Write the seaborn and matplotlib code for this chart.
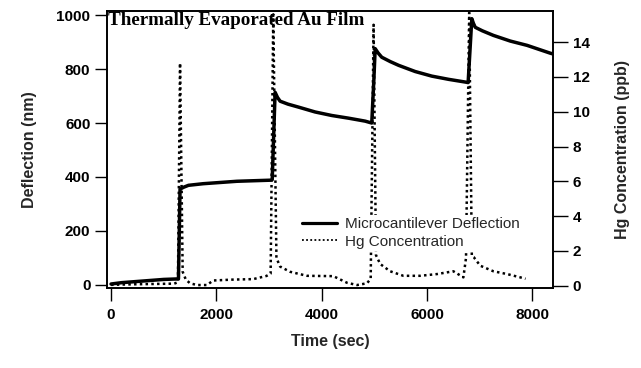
import matplotlib
matplotlib.use("Agg")
import matplotlib.pyplot as plt
import seaborn as sns
import pandas as pd
from matplotlib.lines import Line2D

# ---- data ----
time_defl = [0, 200, 600, 1000, 1280, 1310, 1380, 1470, 1750, 2390, 3020, 3060,
             3115, 3160, 3210, 3360, 3560, 3875, 4190, 4510, 4825, 4950,
             4990, 5015, 5070, 5140, 5300, 5460, 5775, 6090, 6410, 6725,
             6780, 6850, 6880, 6915, 7050, 7260, 7580, 7900, 8340, 8395]
deflection = [3, 8, 14, 20, 22, 355, 362, 369, 375, 384, 388, 390,
              714, 695, 681, 670, 659, 641, 628, 618, 607, 600,
              760, 876, 860, 844, 828, 814, 791, 774, 762, 752,
              750, 987, 970, 955, 942, 925, 904, 888, 859, 856]

time_hg = [0, 400, 800, 1200, 1270, 1310, 1360, 1420, 1500, 1630, 1820, 1940, 2300,
           2700, 2950, 3030, 3080, 3140, 3210, 3400, 3720, 4220, 4480, 4670, 4860,
           4930, 4985, 5030, 5110, 5300, 5550, 5870, 6190, 6500, 6690, 6740, 6800,
           6850, 6890, 7010, 7260, 7520, 7770, 7870]
hg_conc = [0.05, 0.08, 0.1, 0.12, 0.2, 12.8, 0.8, 0.35, 0.14, 0.04, 0.04, 0.3, 0.35,
           0.38, 0.56, 0.7, 15.6, 1.6, 1.1, 0.8, 0.57, 0.55, 0.17, 0.04, 0.14,
           0.4, 15.0, 1.76, 1.25, 0.83, 0.57, 0.57, 0.67, 0.83, 0.48, 1.6, 15.7,
           1.7, 1.63, 1.15, 0.83, 0.67, 0.48, 0.4]

x_ticks = [0, 2000, 4000, 6000, 8000]
left_ticks = [0, 200, 400, 600, 800, 1000]
right_ticks = [0, 2, 4, 6, 8, 10, 12, 14]

title_text = "Thermally Evaporated Au Film"
legend_labels = ["Microcantilever Deflection", "Hg Concentration"]

sns.set_style("ticks")
plt.rcParams['font.family'] = ['Liberation Sans', 'DejaVu Sans']

df_d = pd.DataFrame({"t": time_defl, "d": deflection})
df_h = pd.DataFrame({"t": time_hg, "h": hg_conc})

fig = plt.figure(figsize=(6.41, 3.68), dpi=100)
ax = fig.add_axes([0.167, 0.2165, 0.696, 0.754])
ax2 = ax.twinx()

sns.lineplot(data=df_d, x="t", y="d", ax=ax, color="black", lw=2.5, sort=False)
sns.lineplot(data=df_h, x="t", y="h", ax=ax2, color="black", lw=1.8,
             linestyle=(0, (1, 1.3)), sort=False)

ax.set_xlim(-76, 8395)
ax.set_ylim(-13, 1016)
ax2.set_ylim(-0.15, 15.8)

tick_font = dict(family=['Liberation Sans'], weight='bold', size=11)
ax.set_xticks(x_ticks)
ax.set_xticklabels([str(v) for v in x_ticks], fontdict=tick_font)
ax.set_yticks(left_ticks)
ax.set_yticklabels([str(v) for v in left_ticks], fontdict=tick_font)
ax2.set_yticks(right_ticks)
ax2.set_yticklabels([str(v) for v in right_ticks], fontdict=tick_font)

ax.tick_params(axis='x', direction='out', length=9, width=1, pad=5, colors='black')
ax.tick_params(axis='y', direction='out', length=9, width=1, pad=3, colors='black')
ax2.tick_params(axis='y', direction='out', length=11, width=1, pad=3, colors='black')

label_font = dict(family=['Liberation Sans'], weight='bold', size=11.5)
ax.set_xlabel("Time (sec)", fontdict=label_font, labelpad=9)
ax.set_ylabel("Deflection (nm)", fontdict=label_font, labelpad=14)
ax2.set_ylabel("Hg Concentration (ppb)", fontdict=label_font, labelpad=18, rotation=90)

for a in (ax, ax2):
    for s in a.spines.values():
        s.set_color("black")
        s.set_linewidth(1.2)

ax.text(0.003, 0.997, title_text, transform=ax.transAxes, ha='left', va='top',
        family=['Liberation Serif'], weight='bold', size=13.7, color='black')

handles = [Line2D([], [], color='black', lw=2.3),
           Line2D([], [], color='black', lw=1.3, linestyle=(0, (1, 1.3)))]
leg = ax2.legend(handles, legend_labels, loc='center left', bbox_to_anchor=(0.432, 0.20),
                 frameon=True, framealpha=1, facecolor='white', edgecolor='none',
                 handlelength=2.3, handletextpad=0.5, labelspacing=0.25, borderpad=0.15,
                 borderaxespad=0, prop=dict(family=['Liberation Sans'], size=11))
ax2.set_xlabel("")

fig.savefig("out.png", dpi=100)
